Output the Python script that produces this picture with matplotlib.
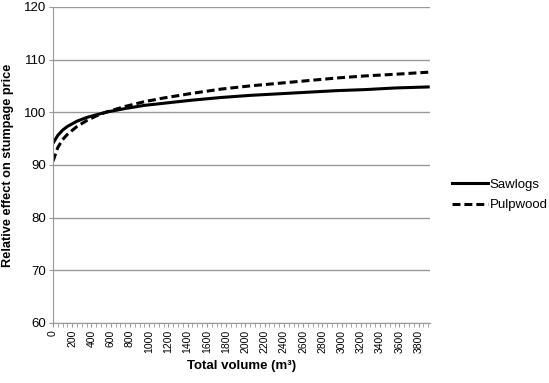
import matplotlib
matplotlib.use('Agg')
import matplotlib.pyplot as plt
from matplotlib.ticker import MultipleLocator

plt.rcParams['font.family'] = ['Liberation Sans', 'DejaVu Sans']

# values
volume = [0, 50, 100, 150, 250, 350, 450, 550, 750, 950, 1150, 1450,
          1750, 2050, 2350, 2650, 2950, 3250, 3550, 3900]
sawlogs = [94.1, 95.6, 96.6, 97.3, 98.3, 99.0, 99.5, 100.0, 100.7, 101.3,
           101.7, 102.3, 102.8, 103.2, 103.5, 103.8, 104.1, 104.3, 104.6, 104.8]
pulpwood = [90.7, 93.3, 94.8, 95.8, 97.3, 98.4, 99.3, 100.0, 101.1, 102.0,
            102.7, 103.6, 104.4, 105.0, 105.5, 106.0, 106.5, 106.9, 107.2, 107.6]
xticks = list(range(0, 3801, 200))

fig = plt.figure(figsize=(5.49, 3.83), dpi=100)
ax = fig.add_axes([0.0965, 0.157, 0.687, 0.825])

ax.plot(volume, sawlogs, color='black', lw=2.2, label='Sawlogs')
ax.plot(volume, pulpwood, color='black', lw=2.2, ls=(0, (2.6, 1.3)), label='Pulpwood')

ax.set_xlim(0, 3920)
ax.set_ylim(60, 120)
ax.set_yticks(range(60, 121, 10))
ax.set_xticks(xticks)
ax.set_xticklabels([str(v) for v in xticks], rotation=90, fontsize=7.5)
ax.xaxis.set_minor_locator(MultipleLocator(50))
ax.tick_params(axis='y', labelsize=9.5, length=3, color='#999999', pad=2)
ax.tick_params(axis='x', which='both', length=3, color='#999999', pad=2)

ax.grid(axis='y', color='#999999', lw=1)
ax.set_axisbelow(True)
for s in ['top', 'right']:
    ax.spines[s].set_visible(False)
for s in ['left', 'bottom']:
    ax.spines[s].set_color('#999999')

ax.set_xlabel('Total volume (m³)', fontsize=9.5, fontweight='bold', labelpad=5)
ax.set_ylabel('Relative effect on stumpage price', fontsize=9.2, fontweight='bold')
ax.yaxis.set_label_coords(-0.104, 0.5)

ax.legend(loc='center left', bbox_to_anchor=(452 / 549, 1 - 195 / 383),
          bbox_transform=fig.transFigure, frameon=False, borderpad=0, borderaxespad=0,
          fontsize=9.5, handlelength=2.7, handletextpad=0.15, labelspacing=0.6)

fig.savefig('out.png', dpi=100)
